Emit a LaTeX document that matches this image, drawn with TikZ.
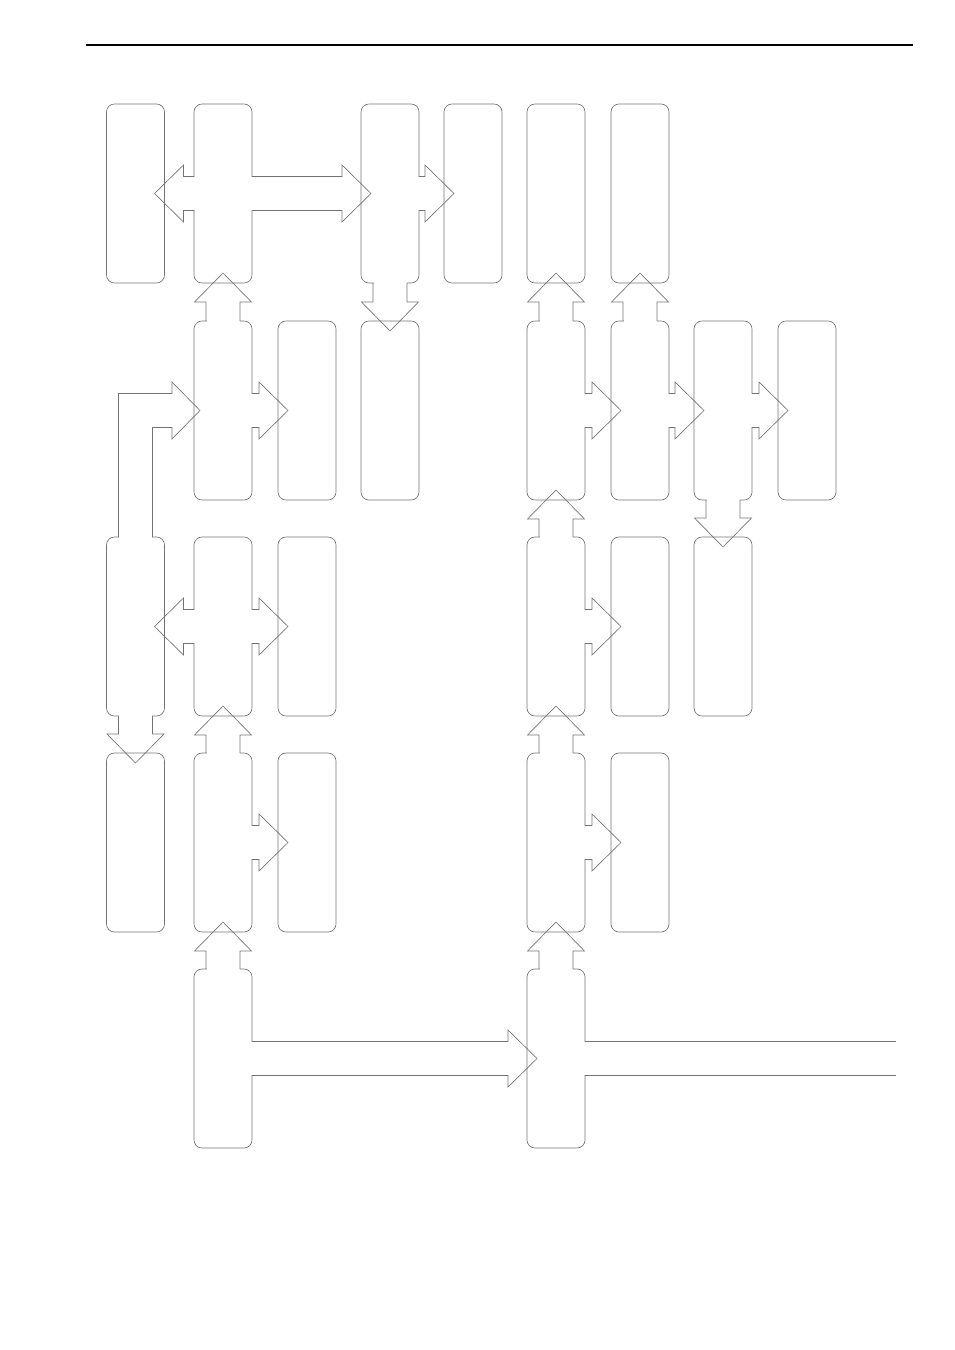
\documentclass[tikz,border=0pt]{standalone}
\usetikzlibrary{calc}

\begin{document}
\begin{tikzpicture}[x=0.6pt,y=-0.6pt,
  blk/.style={draw=black!55,line width=0.4pt,rounded corners=4.8pt,
    minimum width=34.8pt,minimum height=107.4pt,inner sep=0pt,outer sep=0pt},
  arr/.style={draw=black!55,line width=0.4pt},
  gap/.style={fill=white}]
\useasboundingbox (0,0) rectangle (954,1350);
\draw[line width=0.75pt] (86,45) -- (913,45);

% row 1
\node[blk] (r1c1) at (135.5,193.5) {};
\node[blk] (r1c2) at (223,193.5) {};
\node[blk] (r1c4) at (390,193.5) {};
\node[blk] (r1c5) at (473,193.5) {};
\node[blk] (r1c6) at (556,193.5) {};
\node[blk] (r1c7) at (640,193.5) {};
% row 2
\node[blk] (r2c2) at (223,410.5) {};
\node[blk] (r2c3) at (307,410.5) {};
\node[blk] (r2c4) at (390,410.5) {};
\node[blk] (r2c6) at (556,410.5) {};
\node[blk] (r2c7) at (640,410.5) {};
\node[blk] (r2c8) at (723,410.5) {};
\node[blk] (r2c9) at (807,410.5) {};
% row 3
\node[blk] (r3c1) at (135.5,626.5) {};
\node[blk] (r3c2) at (223,626.5) {};
\node[blk] (r3c3) at (307,626.5) {};
\node[blk] (r3c6) at (556,626.5) {};
\node[blk] (r3c7) at (640,626.5) {};
\node[blk] (r3c8) at (723,626.5) {};
% row 4
\node[blk] (r4c1) at (135.5,842.5) {};
\node[blk] (r4c2) at (223,842.5) {};
\node[blk] (r4c3) at (307,842.5) {};
\node[blk] (r4c6) at (556,842.5) {};
\node[blk] (r4c7) at (640,842.5) {};
% row 5
\node[blk] (r5c2) at (223,1058.5) {};
\node[blk] (r5c6) at (556,1058.5) {};
\coordinate (exit) at (896,1058.5);

% right arrows
\foreach \a/\b in {r1c2/r1c4,r1c4/r1c5,r2c2/r2c3,r2c6/r2c7,r2c7/r2c8,r2c8/r2c9,
                   r3c2/r3c3,r3c6/r3c7,r4c2/r4c3,r4c6/r4c7,r5c2/r5c6}{
  \fill[gap] ($(\a.east)+(-1,-16.5)$) rectangle ($(\a.east)+(1,16.5)$);
  \draw[arr] ($(\a.east)+(0,-17)$) -- ($(\b.west |- \a.east)+(-19,-17)$) -- ++(0,-11.5)
    -- ($(\b.west |- \a.east)+(10,0)$) -- ($(\b.west |- \a.east)+(-19,28.5)$) -- ++(0,-11.5)
    -- ($(\a.east)+(0,17)$);
}
% left arrows
\foreach \a/\b in {r1c2/r1c1,r3c2/r3c1}{
  \fill[gap] ($(\a.west)+(-1,-16.5)$) rectangle ($(\a.west)+(1,16.5)$);
  \draw[arr] ($(\a.west)+(0,-17)$) -- ($(\b.east |- \a.west)+(19,-17)$) -- ++(0,-11.5)
    -- ($(\b.east |- \a.west)+(-10,0)$) -- ($(\b.east |- \a.west)+(19,28.5)$) -- ++(0,-11.5)
    -- ($(\a.west)+(0,17)$);
}
% up arrows
\foreach \a/\b in {r2c2/r1c2,r2c6/r1c6,r2c7/r1c7,r3c6/r2c6,r4c2/r3c2,r4c6/r3c6,
                   r5c2/r4c2,r5c6/r4c6}{
  \fill[gap] ($(\a.north)+(-16.5,-1)$) rectangle ($(\a.north)+(16.5,1)$);
  \draw[arr] ($(\a.north)+(-17,0)$) -- ($(\b.south)+(-17,19)$) -- ++(-11.5,0)
    -- ($(\b.south)+(0,-10)$) -- ($(\b.south)+(28.5,19)$) -- ++(-11.5,0)
    -- ($(\a.north)+(17,0)$);
}
% down arrows
\foreach \a/\b in {r1c4/r2c4,r3c1/r4c1,r2c8/r3c8}{
  \fill[gap] ($(\a.south)+(-16.5,-1)$) rectangle ($(\a.south)+(16.5,1)$);
  \draw[arr] ($(\a.south)+(-17,0)$) -- ($(\b.north)+(-17,-19)$) -- ++(-11.5,0)
    -- ($(\b.north)+(0,10)$) -- ($(\b.north)+(28.5,-19)$) -- ++(-11.5,0)
    -- ($(\a.south)+(17,0)$);
}
% bent arrow into row 2
\fill[gap] ($(r3c1.north)+(-16.5,-1)$) rectangle ($(r3c1.north)+(16.5,1)$);
\draw[arr] ($(r3c1.north)+(-17,0)$) |- ($(r2c2.west)+(-22,-17)$) -- ++(0,-11.5)
  -- ($(r2c2.west)+(6,0)$) -- ($(r2c2.west)+(-22,28.5)$) -- ++(0,-11.5)
  -| ($(r3c1.north)+(17,0)$);
% open lines to the right
\fill[gap] ($(r5c6.east)+(-1,-16.5)$) rectangle ($(r5c6.east)+(1,16.5)$);
\draw[arr] ($(r5c6.east)+(0,-17)$) -- ($(exit)+(0,-17)$);
\draw[arr] ($(r5c6.east)+(0,17)$) -- ($(exit)+(0,17)$);
\end{tikzpicture}
\end{document}
